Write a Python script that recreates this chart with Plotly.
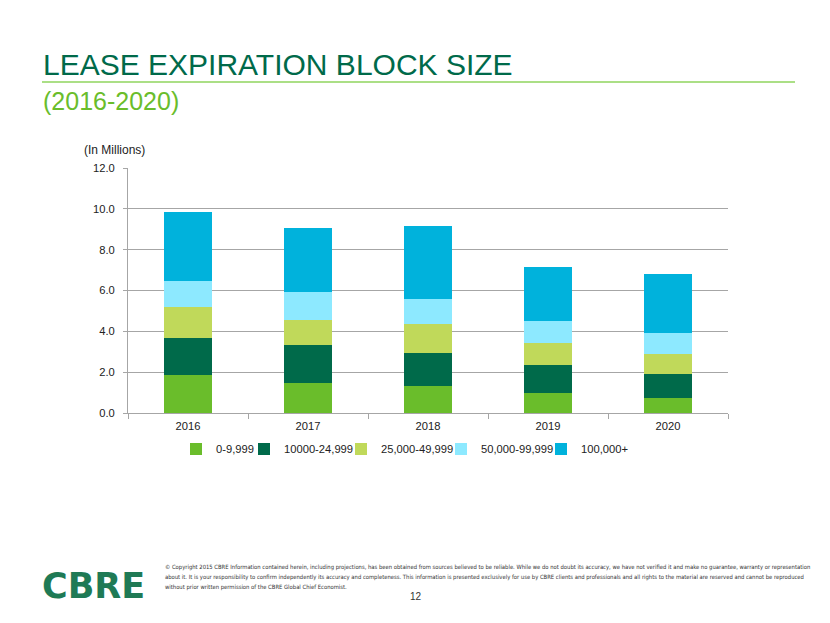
import plotly.graph_objects as go

years = ["2016", "2017", "2018", "2019", "2020"]
series_names = ["0-9,999", "10000-24,999", "25,000-49,999", "50,000-99,999", "100,000+"]
s_0_9999 = [1.84, 1.48, 1.30, 0.99, 0.72]
s_10000_24999 = [1.81, 1.83, 1.65, 1.34, 1.21]
s_25000_49999 = [1.54, 1.26, 1.41, 1.10, 0.94]
s_50000_99999 = [1.26, 1.35, 1.22, 1.07, 1.06]
s_100000_plus = [3.41, 3.12, 3.58, 2.63, 2.88]
y_ticks = [0, 2, 4, 6, 8, 10, 12]
y_tick_labels = ["0.0", "2.0", "4.0", "6.0", "8.0", "10.0", "12.0"]

series_values = [s_0_9999, s_10000_24999, s_25000_49999, s_50000_99999, s_100000_plus]
colors = ["#6ABD2B", "#006A4A", "#C0D95A", "#8DE9FF", "#00B2DC"]
legend_text_x = [215, 283, 380, 480, 580]

W, H = 830, 623
L, R, T, B = 128, 728, 168, 413


def px(x):
    return (x - L) / (R - L)


def py(y):
    return (B - y) / (B - T)


legend_ids = ["legend", "legend2", "legend3", "legend4", "legend5"]

fig = go.Figure()
for name, vals, c, lid in zip(series_names, series_values, colors, legend_ids):
    fig.add_trace(go.Bar(x=years, y=vals, name=name, legend=lid,
                         marker=dict(color=c, line=dict(width=0))))

base_font = "Liberation Sans, Arial, sans-serif"
narrow_font = "DejaVu Sans Condensed, Liberation Sans, Arial, sans-serif"

layout_legends = {}
for lid, tx in zip(legend_ids, legend_text_x):
    layout_legends[lid] = dict(orientation="h", x=px(tx - 39), xanchor="left", y=py(449), yanchor="middle",
                               font=dict(size=11.2, color="#222222"), itemwidth=30,
                               bgcolor="rgba(0,0,0,0)", borderwidth=0)

fig.update_layout(
    width=W, height=H,
    margin=dict(l=L, r=W - R, t=T, b=H - B, pad=0),
    barmode="stack", bargap=0.6,
    plot_bgcolor="white", paper_bgcolor="white",
    font=dict(family=base_font, size=12, color="#222222"),
    showlegend=True,
    xaxis=dict(showline=True, linecolor="#A6A6A6", linewidth=1, ticks="outside",
               tickson="boundaries", ticklen=5, tickcolor="#A6A6A6", showgrid=False,
               ticklabelstandoff=3,
               tickfont=dict(size=11.2, color="#222222")),
    yaxis=dict(range=[0, 12], tickvals=y_ticks, ticktext=y_tick_labels, showline=True,
               linecolor="#A6A6A6", linewidth=1, ticks="outside", ticklen=4, tickcolor="#A6A6A6",
               showgrid=True, gridcolor="#A6A6A6", gridwidth=1, zeroline=False,
               ticklabelstandoff=6,
               tickfont=dict(size=11.2, color="#222222")),
    **layout_legends,
)

ann = []
ann.append(dict(text="LEASE EXPIRATION BLOCK SIZE", x=px(41), y=py(64), xref="paper", yref="paper",
                xanchor="left", yanchor="middle", showarrow=False,
                font=dict(family=base_font, size=30, color="#006A4A")))
ann.append(dict(text="(2016-2020)", x=px(41), y=py(101), xref="paper", yref="paper",
                xanchor="left", yanchor="middle", showarrow=False,
                font=dict(family=base_font, size=25, color="#6ABD2B")))
ann.append(dict(text="(In Millions)", x=px(82), y=py(150), xref="paper", yref="paper",
                xanchor="left", yanchor="middle", showarrow=False,
                font=dict(family=base_font, size=12, color="#222222")))
ann.append(dict(text="<b>CBRE</b>", x=px(40), y=py(586), xref="paper", yref="paper",
                xanchor="left", yanchor="middle", showarrow=False,
                font=dict(family="DejaVu Sans, Liberation Sans, sans-serif", size=35, color="#1F7A55")))

footer_lines = [
    "© Copyright 2015 CBRE Information contained herein, including projections, has been obtained from sources believed to be reliable. While we do not doubt its accuracy, we have not verified it and make no guarantee, warranty or representation",
    "about it. It is your responsibility to confirm independently its accuracy and completeness. This information is presented exclusively for use by CBRE clients and professionals and all rights to the material are reserved and cannot be reproduced",
    "without prior written permission of the CBRE Global Chief Economist.",
]
for i, line in enumerate(footer_lines):
    ann.append(dict(text=line, x=px(163), y=py(567 + i * 10), xref="paper", yref="paper",
                    xanchor="left", yanchor="middle", showarrow=False,
                    font=dict(family=narrow_font, size=5.85, color="#333333")))
ann.append(dict(text="12", x=px(416), y=py(596), xref="paper", yref="paper",
                xanchor="center", yanchor="middle", showarrow=False,
                font=dict(family=base_font, size=10, color="#333333")))

fig.update_layout(annotations=ann)
fig.add_shape(type="line", xref="paper", yref="paper", x0=px(42), x1=px(795), y0=py(82), y1=py(82),
              line=dict(color="#8FD45E", width=1.5))

fig.write_html("out.html", config={"displayModeBar": False},
               post_script="document.body.style.margin='0';")
